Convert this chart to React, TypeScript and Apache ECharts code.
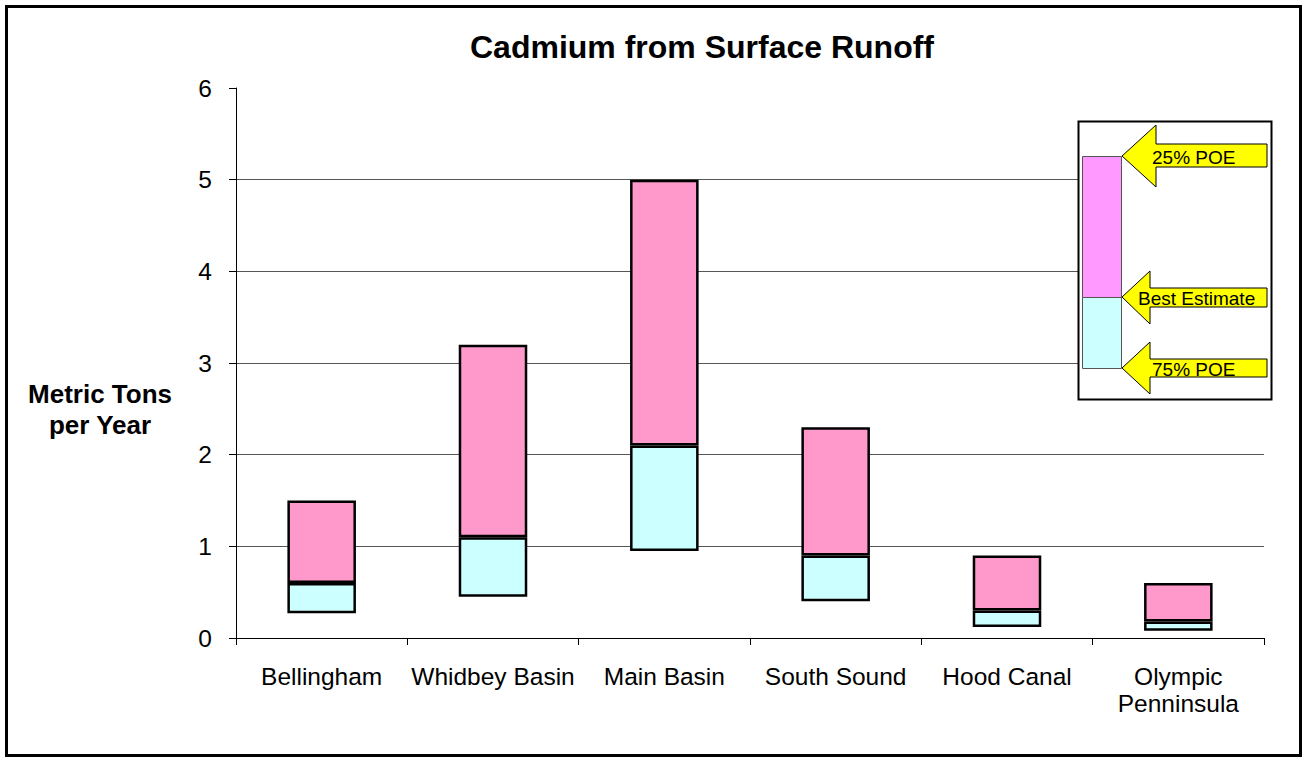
import React, { useEffect, useRef } from "react";
import * as echarts from "echarts";

const categories = ["Bellingham", "Whidbey Basin", "Main Basin", "South Sound", "Hood Canal", "Olympic\nPenninsula"];
const poe75 = [0.27, 0.45, 0.95, 0.4, 0.12, 0.08];
const bestEstimate = [0.6, 1.1, 2.1, 0.9, 0.3, 0.18];
const poe25 = [1.5, 3.2, 5.0, 2.3, 0.9, 0.6];
const yTicks = { min: 0, max: 6, interval: 1 };

const FONT = "'Liberation Sans', Arial, sans-serif";

export default function App() {
  const ref = useRef<HTMLDivElement>(null);
  useEffect(() => {
    const chart = echarts.init(ref.current!, null, { renderer: "svg" });
    const lowSeg = bestEstimate.map((b, i) => +(b - poe75[i]).toFixed(4));
    const highSeg = poe25.map((h, i) => +(h - bestEstimate[i]).toFixed(4));

    const arrow = (tipY: number, headTop: number, headBot: number, baseX: number, bodyTop: number, bodyBot: number) => ({
      type: "polygon",
      shape: {
        points: [
          [1122, tipY],
          [baseX, headTop],
          [baseX, bodyTop],
          [1267, bodyTop],
          [1267, bodyBot],
          [baseX, bodyBot],
          [baseX, headBot],
        ],
      },
      style: { fill: "#FFFF00", stroke: "#000", lineWidth: 1 },
      z: 10,
    });

    chart.setOption({
      animation: false,
      backgroundColor: "#fff",
      textStyle: { fontFamily: FONT },
      title: {
        text: "Cadmium from Surface Runoff",
        left: 697,
        top: 26,
        textAlign: "center",
        textStyle: { fontFamily: FONT, fontSize: 32, fontWeight: "bold", color: "#000" },
      },
      grid: { left: 236, right: 43, top: 88, bottom: 123, containLabel: false },
      xAxis: {
        type: "category",
        data: categories,
        axisLine: { lineStyle: { color: "#000", width: 1 } },
        axisTick: { show: true, length: 7, lineStyle: { color: "#000" } },
        axisLabel: { fontFamily: FONT, fontSize: 24.5, color: "#000", margin: 25, lineHeight: 27, interval: 0 },
      },
      yAxis: {
        type: "value",
        min: yTicks.min,
        max: yTicks.max,
        interval: yTicks.interval,
        axisLine: { show: true, lineStyle: { color: "#000", width: 1 } },
        axisTick: { show: true, length: 7, lineStyle: { color: "#000" } },
        axisLabel: { fontFamily: FONT, fontSize: 24.5, color: "#000", margin: 24 },
        splitLine: { show: true, showMaxLine: false, lineStyle: { color: "#555", width: 1 } },
      },
      series: [
        {
          type: "bar",
          stack: "s",
          data: poe75,
          barWidth: "40%",
          itemStyle: { color: "transparent" },
          silent: true,
        },
        {
          type: "bar",
          stack: "s",
          data: lowSeg,
          barWidth: "40%",
          itemStyle: { color: "#CCFFFF", borderColor: "#000", borderWidth: 2.5 },
        },
        {
          type: "bar",
          stack: "s",
          data: highSeg,
          barWidth: "40%",
          itemStyle: { color: "#FF99CC", borderColor: "#000", borderWidth: 2.5 },
        },
      ],
      graphic: [
        {
          type: "rect",
          shape: { x: 6.5, y: 6.5, width: 1294, height: 749 },
          style: { fill: "none", stroke: "#000", lineWidth: 3 },
          silent: true,
        },
        {
          type: "text",
          x: 100,
          y: 409,
          style: {
            text: "Metric Tons\nper Year",
            font: `bold 26px ${FONT}`,
            fill: "#000",
            align: "center",
            verticalAlign: "middle",
            lineHeight: 31,
          },
        },
        {
          type: "rect",
          shape: { x: 1078.5, y: 121.5, width: 193, height: 278 },
          style: { fill: "#fff", stroke: "#000", lineWidth: 2 },
          z: 5,
        },
        {
          type: "rect",
          shape: { x: 1082.5, y: 156.5, width: 39, height: 141 },
          style: { fill: "#FF99FF", stroke: "#555", lineWidth: 1 },
          z: 6,
        },
        {
          type: "rect",
          shape: { x: 1082.5, y: 297.5, width: 39, height: 71 },
          style: { fill: "#CCFFFF", stroke: "#555", lineWidth: 1 },
          z: 6,
        },
        arrow(156, 125, 187, 1156, 144, 167),
        arrow(297, 271, 324, 1150, 288, 307),
        arrow(368, 342, 394, 1150, 359, 377),
        {
          type: "text",
          x: 1152,
          y: 157,
          style: { text: "25% POE", font: `19px ${FONT}`, fill: "#000", verticalAlign: "middle" },
          z: 11,
        },
        {
          type: "text",
          x: 1138,
          y: 298,
          style: { text: "Best Estimate", font: `19px ${FONT}`, fill: "#000", verticalAlign: "middle" },
          z: 11,
        },
        {
          type: "text",
          x: 1152,
          y: 369,
          style: { text: "75% POE", font: `19px ${FONT}`, fill: "#000", verticalAlign: "middle" },
          z: 11,
        },
      ],
    });
    return () => chart.dispose();
  }, []);
  return <div ref={ref} style={{ position: "absolute", left: 0, top: 0, width: 1307, height: 761 }} />;
}
